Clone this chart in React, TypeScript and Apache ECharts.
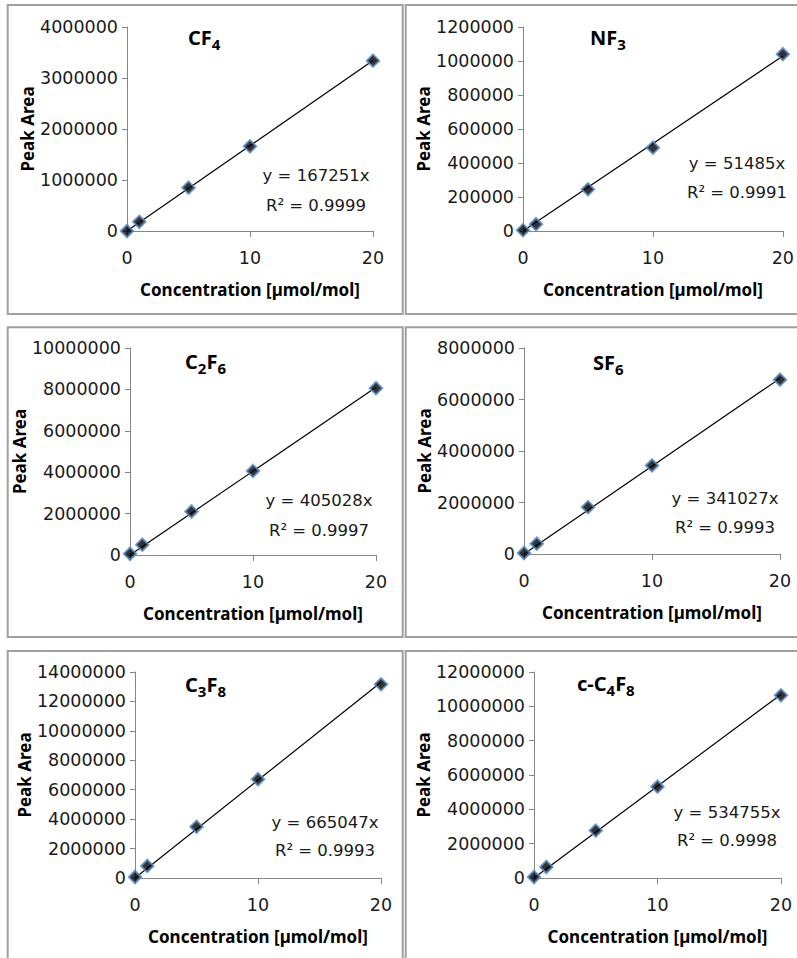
import React, { useEffect, useRef } from 'react';
import * as echarts from 'echarts';

// ---- data ----
const concentration = [0, 1, 5, 10, 20];
const cf4Area = [0, 180000, 850000, 1660000, 3340000];
const nf3Area = [5000, 40000, 245000, 490000, 1040000];
const c2f6Area = [60000, 500000, 2100000, 4060000, 8060000];
const sf6Area = [40000, 400000, 1820000, 3440000, 6770000];
const c3f8Area = [70000, 820000, 3480000, 6710000, 13160000];
const cc4f8Area = [60000, 640000, 2760000, 5320000, 10640000];

const slopes = ['167251', '51485', '405028', '341027', '665047', '534755'];
const rSquared = ['0.9999', '0.9991', '0.9997', '0.9993', '0.9993', '0.9998'];
// trendline value at concentration 20 (slope × 20)
const trendEnd = [3345020, 1029700, 8100560, 6820540, 13300940, 10695100];
const trendX = [0, 20];

const yMax = [4000000, 1200000, 10000000, 8000000, 14000000, 12000000];
const yStep = [1000000, 200000, 2000000, 2000000, 2000000, 2000000];
const gasTitles = ['{m|CF}{s|4}', '{m|NF}{s|3}', '{m|C}{s|2}{m|F}{s|6}', '{m|SF}{s|6}', '{m|C}{s|3}{m|F}{s|8}', '{m|c-C}{s|4}{m|F}{s|8}'];
const allAreas = [cf4Area, nf3Area, c2f6Area, sf6Area, c3f8Area, cc4f8Area];

// ---- layout ----
const layouts = [
  { grid: [127, 27, 246, 204], gapY: 90, title: [188, 28], eq: [316, 175, 205], box: [7.7, 5, 402.7, 314] },
  { grid: [523, 27, 265, 204], gapY: 89, title: [590, 28], eq: [737, 163, 192], box: [405.7, 5, 802, 314] },
  { grid: [130, 348, 246, 207], gapY: 93, title: [185, 352], eq: [319, 500, 530], box: [7.7, 327.3, 402.7, 637] },
  { grid: [524, 348, 256, 206], gapY: 90, title: [593, 353], eq: [725, 498, 527], box: [405.7, 327.3, 802, 637] },
  { grid: [135, 672, 246, 206], gapY: 98, title: [185, 675], eq: [325, 822, 850], box: [7.7, 651, 402.7, 965] },
  { grid: [534, 672, 247, 206], gapY: 100, title: [577, 674], eq: [727, 812, 840], box: [405.7, 651, 802, 965] },
];

const AXIS_GRAY = '#868686';
const TICK_FONT = 'DejaVu Sans';
const BOLD_FONT = 'Noto Sans';

function buildOption() {
  const grid: any[] = [];
  const xAxis: any[] = [];
  const yAxis: any[] = [];
  const series: any[] = [];
  const title: any[] = [];
  const graphic: any[] = [];

  layouts.forEach((l, i) => {
    grid.push({ left: l.grid[0], top: l.grid[1], width: l.grid[2], height: l.grid[3], containLabel: false });
    xAxis.push({
      gridIndex: i,
      type: 'value',
      min: 0,
      max: 20,
      interval: 10,
      name: 'Concentration [µmol/mol]',
      nameLocation: 'middle',
      nameGap: 50,
      nameTextStyle: { fontFamily: BOLD_FONT, fontWeight: 'bold', fontSize: 17, color: '#000' },
      axisLine: { show: true, onZero: false, lineStyle: { color: AXIS_GRAY, width: 1 } },
      axisTick: { show: true, length: 6, lineStyle: { color: AXIS_GRAY } },
      axisLabel: { margin: 18, fontFamily: TICK_FONT, fontSize: 17.5, color: '#1a1a1a' },
      splitLine: { show: false },
    });
    yAxis.push({
      gridIndex: i,
      type: 'value',
      min: 0,
      max: yMax[i],
      interval: yStep[i],
      name: 'Peak Area',
      nameLocation: 'middle',
      nameGap: l.gapY,
      nameTextStyle: { fontFamily: BOLD_FONT, fontWeight: 'bold', fontSize: 17, color: '#000' },
      axisLine: { show: true, lineStyle: { color: AXIS_GRAY, width: 1 } },
      axisTick: { show: true, length: 5, lineStyle: { color: AXIS_GRAY } },
      axisLabel: { margin: 9, fontFamily: TICK_FONT, fontSize: 17.5, color: '#1a1a1a', formatter: (v: number) => String(v) },
      splitLine: { show: false },
    });
    series.push({
      type: 'line',
      xAxisIndex: i,
      yAxisIndex: i,
      data: trendX.map((x, k) => [x, k === 0 ? 0 : trendEnd[i]]),
      showSymbol: false,
      symbol: 'none',
      lineStyle: { color: '#000', width: 1.2 },
      z: 2,
      silent: true,
    });
    series.push({
      type: 'scatter',
      xAxisIndex: i,
      yAxisIndex: i,
      data: concentration.map((c, k) => [c, allAreas[i][k]]),
      symbol: 'diamond',
      symbolSize: 12.5,
      itemStyle: { color: '#000', borderColor: '#5588c8', borderWidth: 2 },
      z: 3,
    });
    title.push({
      left: l.title[0],
      top: l.title[1],
      text: gasTitles[i],
      padding: 0,
      textStyle: {
        rich: {
          m: { fontFamily: BOLD_FONT, fontWeight: 'bold', fontSize: 20, color: '#000', verticalAlign: 'bottom', lineHeight: 23, padding: [0, 0, 4, 0] },
          s: { fontFamily: BOLD_FONT, fontWeight: 'bold', fontSize: 15, color: '#000', verticalAlign: 'bottom', lineHeight: 19 },
        },
      },
    });
    graphic.push({
      type: 'text',
      x: l.eq[0],
      y: l.eq[1],
      style: { text: 'y = ' + slopes[i] + 'x', fill: '#1a1a1a', fontFamily: TICK_FONT, fontSize: 16.5, align: 'center', verticalAlign: 'middle' },
    });
    graphic.push({
      type: 'text',
      x: l.eq[0],
      y: l.eq[2],
      style: { text: 'R² = ' + rSquared[i], fill: '#1a1a1a', fontFamily: TICK_FONT, fontSize: 16.5, align: 'center', verticalAlign: 'middle' },
    });
    graphic.push({
      type: 'rect',
      shape: { x: l.box[0], y: l.box[1], width: l.box[2] - l.box[0], height: l.box[3] - l.box[1] },
      style: { fill: 'none', stroke: '#a0a0a0', lineWidth: 2 },
      silent: true,
    });
  });

  return {
    animation: false,
    backgroundColor: '#ffffff',
    grid,
    xAxis,
    yAxis,
    series,
    title,
    graphic,
  };
}

export default function App() {
  const ref = useRef<HTMLDivElement>(null);
  useEffect(() => {
    if (!ref.current) return;
    const chart = echarts.init(ref.current, undefined, { renderer: 'svg' });
    chart.setOption(buildOption() as any);
    return () => chart.dispose();
  }, []);
  return <div ref={ref} style={{ position: 'absolute', left: 0, top: 0, width: 797, height: 958, background: '#fff' }} />;
}
